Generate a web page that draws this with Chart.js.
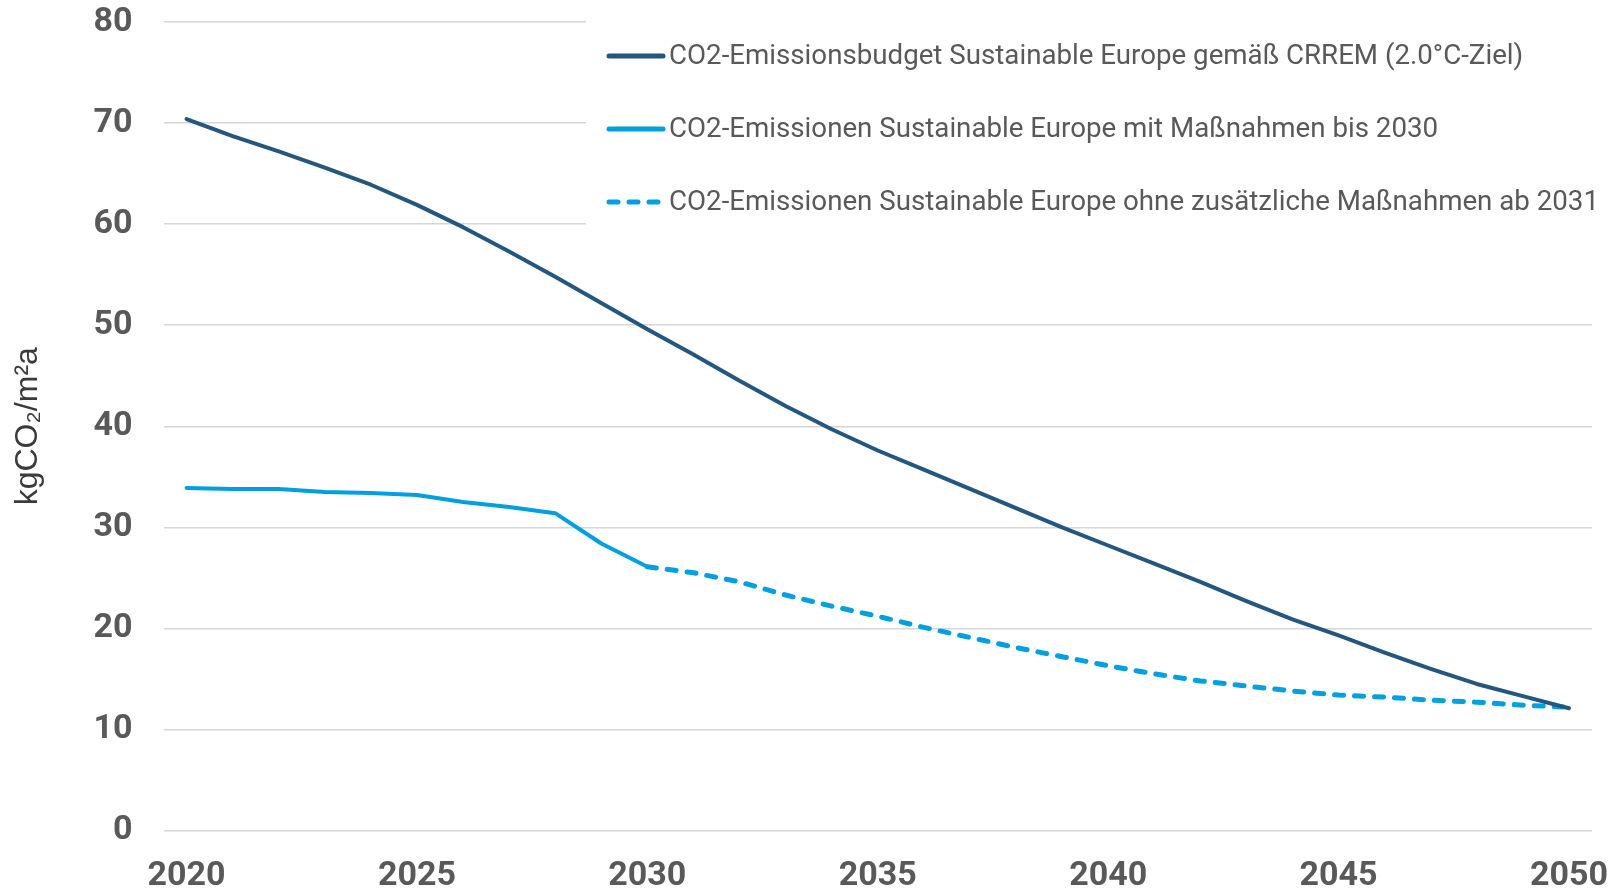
<!DOCTYPE html>
<html>
<head>
<meta charset="utf-8">
<script src="https://cdn.jsdelivr.net/npm/chart.js@4.4.0/dist/chart.umd.min.js"></script>
<style>
  html, body { margin: 0; padding: 0; background: #fff; }
  .chartBox { width: 1611px; height: 892px; }
</style>
</head>
<body>
<div class="chartBox"><canvas id="myChart"></canvas></div>
<script>
const years = [
  "2020", "2021", "2022", "2023", "2024", "2025", "2026", "2027", "2028", "2029",
  "2030", "2031", "2032", "2033", "2034", "2035", "2036", "2037", "2038", "2039",
  "2040", "2041", "2042", "2043", "2044", "2045", "2046", "2047", "2048", "2049", "2050",
];

// CRREM budget (2.0°C)
const budget = [
  70.4, 68.7, 67.2, 65.6, 63.9, 61.9, 59.7, 57.3, 54.8, 52.2,
  49.6, 47.1, 44.5, 42.0, 39.7, 37.6, 35.7, 33.8, 31.9, 30.0,
  28.2, 26.4, 24.6, 22.7, 20.9, 19.3, 17.6, 16.0, 14.5, 13.3, 12.1,
];

// mit Maßnahmen bis 2030
const withMeasures = [
  33.9, 33.8, 33.8, 33.5, 33.4, 33.2, 32.5, 32.0, 31.4, 28.4,
  26.1, null, null, null, null, null, null, null, null, null,
  null, null, null, null, null, null, null, null, null, null, null,
];

// ohne zusätzliche Maßnahmen ab 2031
const withoutMeasures = [
  null, null, null, null, null, null, null, null, null, null,
  26.1, 25.5, 24.6, 23.3, 22.2, 21.2, 20.1, 19.1, 18.1, 17.2,
  16.3, 15.5, 14.8, 14.3, 13.8, 13.4, 13.2, 12.9, 12.7, 12.4, 12.2,
];

const yTicks = [0, 10, 20, 30, 40, 50, 60, 70, 80];

const seriesLabels = [
  "CO2-Emissionsbudget Sustainable Europe gemäß CRREM (2.0°C-Ziel)",
  "CO2-Emissionen Sustainable Europe mit Maßnahmen bis 2030",
  "CO2-Emissionen Sustainable Europe ohne zusätzliche Maßnahmen ab 2031",
];

const darkBlue = "#24577f";
const lightBlue = "#00a0e0";
const tickGray = "#595959";
const tickFont = { family: "Roboto", size: 34, weight: "bold" };

// legend in the upper right, over a white box that hides the grid
const legendBox = {
  id: "legendBox",
  beforeDatasetsDraw(chart) {
    const ctx = chart.ctx;
    ctx.save();
    ctx.fillStyle = "#fff";
    ctx.fillRect(586, 0, chart.width - 586, 245);

    const rows = [56, 129, 202];
    chart.data.datasets.forEach((ds, i) => {
      const y = rows[i];
      ctx.beginPath();
      ctx.strokeStyle = ds.borderColor;
      ctx.lineWidth = 5;
      ctx.lineCap = "round";
      ctx.setLineDash(ds.borderDash || []);
      ctx.moveTo(609, y);
      ctx.lineTo(663, y);
      ctx.stroke();
      ctx.setLineDash([]);

      ctx.fillStyle = tickGray;
      ctx.font = "27.7px Roboto";
      ctx.textBaseline = "middle";
      ctx.textAlign = "left";
      ctx.fillText(ds.label, 669, y + 1);
    });
    ctx.restore();
  },
};

const ctx = document.getElementById("myChart").getContext("2d");

const myChart = new Chart(ctx, {
  type: "line",
  data: {
    labels: years,
    datasets: [
      {
        label: seriesLabels[0],
        data: budget,
        borderColor: darkBlue,
        borderWidth: 4,
        borderCapStyle: "round",
        borderJoinStyle: "round",
        pointRadius: 0,
        tension: 0,
      },
      {
        label: seriesLabels[1],
        data: withMeasures,
        borderColor: lightBlue,
        borderWidth: 4,
        borderCapStyle: "round",
        borderJoinStyle: "round",
        pointRadius: 0,
        tension: 0,
      },
      {
        label: seriesLabels[2],
        data: withoutMeasures,
        borderColor: lightBlue,
        borderWidth: 5,
        borderDash: [9, 11],
        borderCapStyle: "round",
        pointRadius: 0,
        tension: 0,
      },
    ],
  },
  options: {
    responsive: true,
    maintainAspectRatio: false,
    animation: false,
    layout: {
      padding: { top: 22, right: 19, bottom: 0, left: 0 },
    },
    plugins: {
      legend: { display: false },
      tooltip: { enabled: false },
    },
    scales: {
      x: {
        type: "category",
        offset: true,
        grid: { display: false, drawTicks: false },
        border: { display: false },
        ticks: {
          autoSkip: false,
          maxRotation: 0,
          padding: 26,
          color: tickGray,
          font: tickFont,
          callback: function (value, index) {
            const year = years[index];
            return Number(year) % 5 === 0 ? year : "";
          },
        },
        afterFit: (scale) => {
          scale.paddingLeft = 0;
          scale.paddingRight = 0;
          scale.height = 61.5;
        },
      },
      y: {
        min: 0,
        max: 80,
        afterBuildTicks: (scale) => {
          scale.ticks = yTicks.map((v) => ({ value: v }));
        },
        grid: { color: "#d6d6d6", lineWidth: 1.5, drawTicks: false },
        border: { display: false },
        ticks: {
          padding: 31,
          color: tickGray,
          font: tickFont,
        },
        title: {
          display: true,
          text: "kgCO₂/m²a",
          color: "#3a3a3a",
          font: { family: "Liberation Sans", size: 32 },
          padding: { top: 9, bottom: 0 },
        },
        afterFit: (scale) => {
          scale.paddingTop = 0;
          scale.paddingBottom = 0;
          scale.width = 163.5;
        },
      },
    },
  },
  plugins: [legendBox],
});
</script>
</body>
</html>
